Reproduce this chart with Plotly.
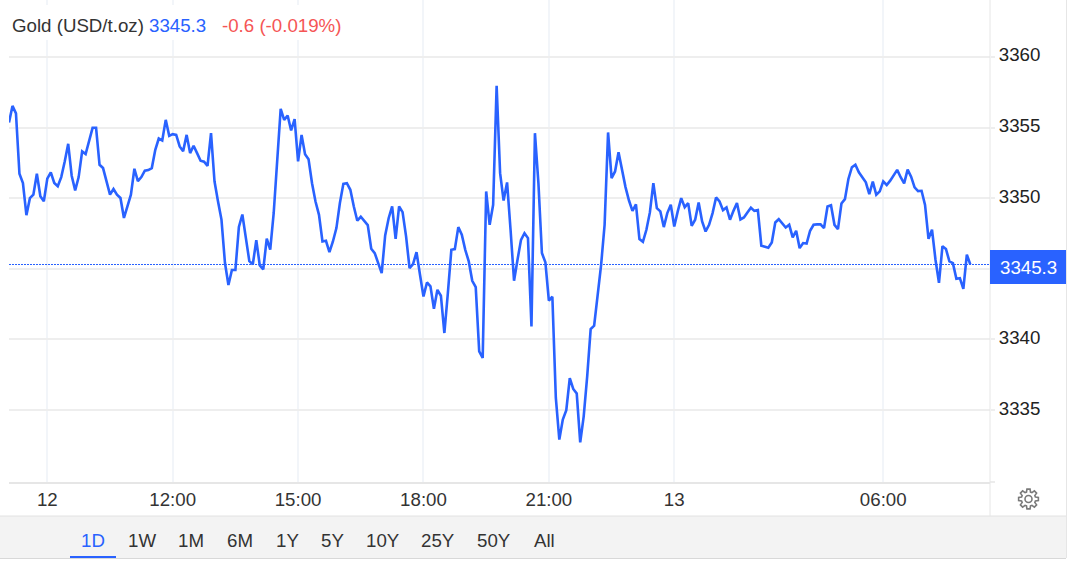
import math
import plotly.graph_objects as go

W, H = 1069, 567
L, R, T, B = 9, 990, 0, 482

title_name = "Gold (USD/t.oz)"
last_text = "3345.3"
change_text = "-0.6 (-0.019%)"
last_price = 3345.3

prices = [
    3355.35, 3356.53, 3356.0, 3351.73, 3351.07, 3348.79, 3350.0, 3350.25, 3351.73, 3350.13,
    3349.78, 3351.38, 3351.82, 3351.07, 3350.84, 3351.49, 3352.6, 3353.85, 3351.59, 3350.55,
    3351.49, 3353.31, 3353.12, 3354.13, 3354.98, 3354.98, 3352.36, 3352.13, 3351.19, 3350.25,
    3350.65, 3350.25, 3350.01, 3348.6, 3349.42, 3350.25, 3352.08, 3351.21, 3351.49, 3351.94,
    3351.99, 3352.13, 3353.42, 3354.22, 3354.08, 3355.54, 3354.41, 3354.53, 3354.48, 3353.66,
    3353.33, 3354.48, 3353.19, 3353.71, 3353.19, 3352.65, 3352.58, 3352.29, 3354.6, 3351.19,
    3349.78, 3348.48, 3345.42, 3343.85, 3344.91, 3344.91, 3347.96, 3348.84, 3347.19, 3345.54,
    3345.31, 3347.02, 3345.24, 3344.95, 3347.14, 3346.36, 3348.95, 3353.07, 3356.32, 3355.54,
    3355.85, 3354.79, 3355.59, 3352.6, 3354.48, 3353.11, 3352.76, 3351.06, 3349.76, 3348.82,
    3346.93, 3346.98, 3346.18, 3346.93, 3347.88, 3349.65, 3351.01, 3351.06, 3350.59, 3349.41,
    3348.4, 3348.68, 3348.35, 3348.09, 3346.42, 3346.11, 3345.4, 3344.69, 3347.36, 3348.58,
    3349.41, 3347.12, 3349.41, 3349.01, 3347.29, 3345.05, 3345.33, 3346.18, 3344.58, 3343.04,
    3344.03, 3343.75, 3342.17, 3343.51, 3343.09, 3340.45, 3343.28, 3346.34, 3346.39, 3347.95,
    3347.41, 3346.34, 3345.52, 3344.15, 3343.7, 3339.15, 3338.68, 3350.47, 3348.11, 3349.53,
    3357.95, 3351.77, 3349.83, 3351.11, 3347.76, 3344.15, 3345.64, 3347.05, 3347.52, 3347.17,
    3340.92, 3354.6, 3351.06, 3346.11, 3345.45, 3342.74, 3343.02, 3335.85, 3332.9, 3334.32,
    3334.98, 3337.26, 3336.49, 3336.16, 3332.71, 3334.55, 3337.38, 3340.73, 3340.97, 3343.04,
    3345.28, 3348.11, 3354.65, 3351.42, 3351.89, 3353.25, 3352.0, 3350.78, 3349.83, 3349.1,
    3349.55, 3347.1, 3346.91, 3347.76, 3348.99, 3351.06, 3349.29, 3349.06, 3347.95, 3348.94,
    3349.53, 3347.99, 3349.06, 3350.0, 3349.36, 3349.65, 3348.04, 3348.47, 3349.69, 3348.35,
    3347.64, 3348.11, 3348.94, 3350.05, 3349.76, 3349.15, 3349.34, 3348.47, 3349.1, 3349.65,
    3348.49, 3348.63, 3348.99, 3349.32, 3349.1, 3349.15, 3346.63, 3346.56, 3346.49, 3346.86,
    3348.28, 3348.51, 3348.23, 3347.92, 3348.11, 3347.22, 3347.69, 3346.46, 3346.82, 3346.79,
    3347.69, 3348.11, 3348.14, 3348.14, 3347.88, 3349.41, 3349.5, 3348.11, 3347.81, 3349.62,
    3349.93, 3351.36, 3352.19, 3352.36, 3351.83, 3351.43, 3351.12, 3350.29, 3351.17, 3350.24,
    3350.48, 3351.19, 3350.93, 3351.24, 3351.67, 3352.0, 3351.48, 3351.05, 3352.02, 3351.52,
    3350.76, 3350.5, 3350.52, 3349.52, 3347.12, 3347.76, 3345.64, 3344.0, 3346.6, 3346.4,
    3345.52, 3345.4, 3344.29, 3344.33, 3343.57, 3346.0, 3345.3,
]
bars = list(range(len(prices)))
x_tick_bars = [11, 47, 83, 119, 155, 191, 251]
x_tick_labels = ["12", "12:00", "15:00", "18:00", "21:00", "13", "06:00"]
y_ticks = [3335, 3340, 3345, 3350, 3355, 3360]
y_tick_labels = ["3335", "3340", "", "3350", "3355", "3360"]
ranges = ["1D", "1W", "1M", "6M", "1Y", "5Y", "10Y", "25Y", "50Y", "All"]

BLUE = "#2962ff"
FONT = "Liberation Sans, Arial, sans-serif"
FS = 18.7


def px(v):
    return (v - L) / (R - L)


def py(v):
    return (B - v) / (B - T)


def gear_path(cx, cy, outer, inner, teeth=8):
    pts = []
    step = 2 * math.pi / teeth
    for i in range(teeth):
        a = i * step
        for off, r in ((-0.36, inner), (-0.2, outer), (0.2, outer), (0.36, inner)):
            t = a + off * step
            pts.append((cx + r * math.cos(t), cy + r * math.sin(t)))
    return "M " + " L ".join(f"{px(x):.5f},{py(y):.5f}" for x, y in pts) + " Z"


fig = go.Figure(
    go.Scatter(x=bars, y=prices, mode="lines", line=dict(color=BLUE, width=2.6),
               hovertemplate="%{y:.1f}<extra></extra>")
)

GEAR = "#7a7a7a"
shapes = [
    dict(type="rect", xref="paper", yref="paper", x0=px(0), x1=px(1066), y0=py(516), y1=py(558.5),
         fillcolor="#f3f3f3", line=dict(width=0), layer="below"),
    dict(type="line", xref="paper", yref="paper", x0=px(0), x1=px(1066), y0=py(516), y1=py(516),
         line=dict(color="#e2e2e2", width=1)),
    dict(type="line", xref="paper", yref="paper", x0=px(0), x1=px(1066), y0=py(558.5), y1=py(558.5),
         line=dict(color="#d8d8d8", width=1)),
    dict(type="line", xref="paper", yref="paper", x0=px(1066.5), x1=px(1066.5), y0=py(0), y1=py(558),
         line=dict(color="#e6e6e6", width=1)),
    dict(type="line", xref="paper", yref="paper", x0=px(990), x1=px(990), y0=py(0), y1=py(516),
         line=dict(color="#e6e6e6", width=1)),
    dict(type="line", xref="paper", yref="paper", x0=px(990), x1=px(995), y0=py(482), y1=py(482),
         line=dict(color="#e6e6e6", width=1.5)),
    dict(type="line", xref="paper", yref="paper", x0=px(70), x1=px(116), y0=py(557), y1=py(557),
         line=dict(color=BLUE, width=2)),
    dict(type="rect", xref="paper", yref="paper", x0=px(9), x1=px(346), y0=py(5), y1=py(40),
         fillcolor="#ffffff", line=dict(width=0), layer="above"),
    dict(type="line", xref="paper", yref="y", x0=0, x1=1, y0=last_price, y1=last_price,
         line=dict(color=BLUE, width=1, dash="2px,1px")),
    dict(type="rect", xref="paper", yref="paper", x0=px(990), x1=px(1066), y0=py(250), y1=py(284),
         fillcolor=BLUE, line=dict(width=0), layer="above"),
    dict(type="path", xref="paper", yref="paper", path=gear_path(1028.5, 499, 10, 7.2),
         fillcolor="rgba(0,0,0,0)", line=dict(color=GEAR, width=1.6)),
    dict(type="circle", xref="paper", yref="paper", x0=px(1025), x1=px(1032), y0=py(495.5), y1=py(502.5),
         fillcolor="rgba(0,0,0,0)", line=dict(color=GEAR, width=1.6)),
]


def note(text, x, y, color="#333333", size=FS, anchor="left"):
    return dict(text=text, xref="paper", yref="paper", x=px(x), y=py(y), xanchor=anchor,
                yanchor="middle", showarrow=False, borderpad=0, borderwidth=0,
                font=dict(family=FONT, size=size, color=color))


annotations = [
    note(title_name, 12, 25),
    note(last_text, 149, 25, BLUE),
    note(change_text, 222, 25, "#f55555"),
    note(last_text, 1028, 267, "#ffffff", anchor="center"),
]
range_centers = [93, 142, 191, 240, 287, 332, 383, 438, 494, 544]
for i, (label, cx) in enumerate(zip(ranges, range_centers)):
    annotations.append(note(label, cx, 540.5, BLUE if i == 0 else "#333333", anchor="center"))

fig.update_layout(
    width=W, height=H, autosize=False,
    margin=dict(l=L, r=W - R, t=T, b=H - B, pad=0),
    paper_bgcolor="#ffffff", plot_bgcolor="#ffffff",
    showlegend=False, shapes=shapes, annotations=annotations,
    font=dict(family=FONT, size=FS, color="#333333"),
    xaxis=dict(range=[0, 281.65], tickmode="array", tickvals=x_tick_bars, ticktext=x_tick_labels,
               showgrid=True, gridcolor="#f2f5f9", gridwidth=1.5, zeroline=False,
               showline=True, linecolor="#e6e6e6", linewidth=1.5,
               ticks="", ticklabelstandoff=0,
               tickfont=dict(family=FONT, size=FS, color="#333333"), fixedrange=True),
    yaxis=dict(range=[3329.9, 3364.03], side="right", tickmode="array", tickvals=y_ticks,
               ticktext=y_tick_labels,
               showgrid=True, gridcolor="#eeeeee", gridwidth=1.5, zeroline=False, showline=False,
               ticks="outside", ticklen=4, tickcolor="#eeeeee", tickwidth=1.5, ticklabelshift=-2,
               tickfont=dict(family=FONT, size=FS, color="#222222"), fixedrange=True),
)

fig.write_html(
    "out.html",
    config=dict(displayModeBar=False),
    post_script="document.body.style.margin='0';document.documentElement.style.overflow='hidden';",
)
